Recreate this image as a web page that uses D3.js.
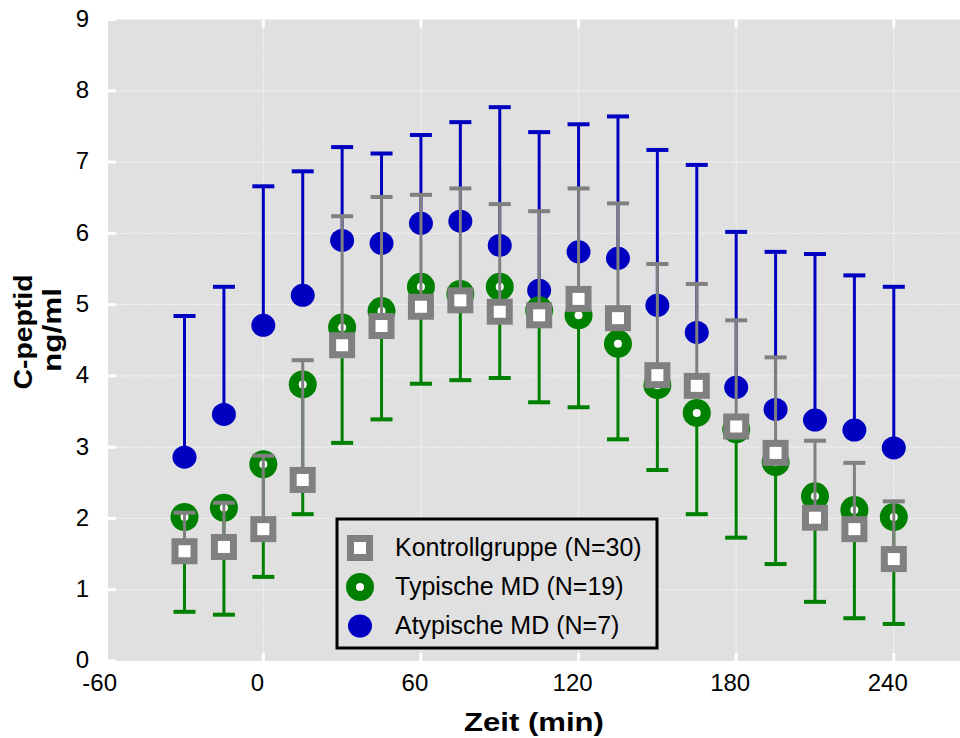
<!DOCTYPE html>
<html>
<head>
<meta charset="utf-8">
<script src="https://cdn.jsdelivr.net/npm/d3@7"></script>
<style>
  body { margin: 0; background: #fff; }
  text { font-family: "Liberation Sans", Arial, sans-serif; }
</style>
</head>
<body>
<div id="chart"></div>
<script>
const width = 960;
const height = 738;

// time points (min)
const times = [-30, -15, 0, 15, 30, 45, 60, 75, 90, 105, 120, 135, 150, 165, 180, 195, 210, 225, 240];

// Kontrollgruppe: mean and upper end of error bar
const ctrlMean  = [1.54, 1.60, 1.85, 2.54, 4.43, 4.70, 4.97, 5.06, 4.90, 4.85, 5.08, 4.81, 4.01, 3.86, 3.29, 2.92, 2.01, 1.85, 1.43];
const ctrlUpper = [2.08, 2.22, 2.88, 4.22, 6.24, 6.51, 6.54, 6.63, 6.41, 6.31, 6.63, 6.42, 5.57, 5.29, 4.78, 4.26, 3.09, 2.78, 2.24];

// Typische MD: mean and lower end of error bar
const typMean  = [2.02, 2.15, 2.76, 3.88, 4.68, 4.91, 5.25, 5.15, 5.25, 4.92, 4.85, 4.45, 3.87, 3.48, 3.25, 2.79, 2.31, 2.12, 2.02];
const typLower = [0.69, 0.65, 1.18, 2.06, 3.06, 3.39, 3.89, 3.94, 3.97, 3.63, 3.56, 3.11, 2.68, 2.06, 1.73, 1.36, 0.83, 0.60, 0.52];

// Atypische MD: mean and upper end of error bar
const atyMean  = [2.86, 3.46, 4.71, 5.13, 5.90, 5.86, 6.14, 6.17, 5.83, 5.20, 5.74, 5.65, 4.99, 4.61, 3.84, 3.53, 3.38, 3.24, 2.99];
const atyUpper = [4.84, 5.25, 6.66, 6.87, 7.21, 7.12, 7.38, 7.56, 7.77, 7.42, 7.53, 7.64, 7.17, 6.96, 6.02, 5.74, 5.71, 5.41, 5.25];

const xTicks = [-60, 0, 60, 120, 180, 240];
const yTicks = [0, 1, 2, 3, 4, 5, 6, 7, 8, 9];

const legendLabels = ["Kontrollgruppe (N=30)", "Typische MD (N=19)", "Atypische MD (N=7)"];

const grey = "#808080", green = "#008000", blue = "#0000c0";

const plotL = 108, plotR = 960, plotT = 19.5, plotB = 661;

const x = d3.scaleLinear().domain([-60, 240]).range([105.7, 893.8]);
const y = d3.scaleLinear().domain([0, 9]).range([plotB, plotT]);

const svg = d3.select("#chart")
  .append("svg")
  .attr("width", width)
  .attr("height", height);

// plot background
svg.append("rect")
  .attr("x", plotL).attr("y", plotT)
  .attr("width", plotR - plotL).attr("height", plotB - plotT)
  .attr("fill", "#e0e0e0");

// grid
svg.append("g").selectAll("line")
  .data(yTicks.slice(1, -1))
  .join("line")
  .attr("x1", plotL).attr("x2", plotR)
  .attr("y1", d => y(d)).attr("y2", d => y(d))
  .attr("stroke", "#f6f6f6").attr("stroke-width", 1).attr("stroke-dasharray", "2,1");

svg.append("g").selectAll("line")
  .data(xTicks.slice(1))
  .join("line")
  .attr("x1", d => x(d)).attr("x2", d => x(d))
  .attr("y1", plotT).attr("y2", plotB)
  .attr("stroke", "#f6f6f6").attr("stroke-width", 1).attr("stroke-dasharray", "2,1");

// white inward tick marks
const tickLen = 8;
svg.append("g").selectAll("line")
  .data(yTicks)
  .join("line")
  .attr("x1", plotL).attr("x2", plotL + tickLen)
  .attr("y1", d => y(d)).attr("y2", d => y(d))
  .attr("stroke", "#fff").attr("stroke-width", 3);

svg.append("g").selectAll("line")
  .data(xTicks.slice(1))
  .join("line")
  .attr("x1", d => x(d)).attr("x2", d => x(d))
  .attr("y1", plotB - tickLen).attr("y2", plotB)
  .attr("stroke", "#fff").attr("stroke-width", 3);

svg.append("g").selectAll("line")
  .data(xTicks.slice(1))
  .join("line")
  .attr("x1", d => x(d)).attr("x2", d => x(d))
  .attr("y1", plotT).attr("y2", plotT + tickLen)
  .attr("stroke", "#fff").attr("stroke-width", 3);

// tick labels
svg.append("g").selectAll("text")
  .data(yTicks)
  .join("text")
  .attr("x", 89).attr("y", d => y(d) + 1)
  .attr("text-anchor", "end").attr("dominant-baseline", "middle")
  .attr("font-size", 24)
  .text(d => d);

svg.append("g").selectAll("text")
  .data(xTicks)
  .join("text")
  .attr("x", d => x(d) - 6).attr("y", 691)
  .attr("text-anchor", "middle")
  .attr("font-size", 24)
  .text(d => d);

// axis titles
svg.append("text")
  .attr("x", 534).attr("y", 731)
  .attr("text-anchor", "middle")
  .attr("font-size", 26).attr("font-weight", "bold")
  .attr("textLength", 140).attr("lengthAdjust", "spacingAndGlyphs")
  .text("Zeit (min)");

svg.append("text")
  .attr("transform", "translate(32,332) rotate(-90)")
  .attr("text-anchor", "middle")
  .attr("font-size", 26).attr("font-weight", "bold")
  .attr("textLength", 115).attr("lengthAdjust", "spacingAndGlyphs")
  .text("C-peptid");

svg.append("text")
  .attr("transform", "translate(61,330) rotate(-90)")
  .attr("text-anchor", "middle")
  .attr("font-size", 26).attr("font-weight", "bold")
  .attr("textLength", 84).attr("lengthAdjust", "spacingAndGlyphs")
  .text("ng/ml");

// error bar helper
const capW = 11;
function errorBars(g, means, ends, color) {
  const d = times.map((t, i) => ({ t, m: means[i], e: ends[i] }));
  g.selectAll("line.stem")
    .data(d).join("line").attr("class", "stem")
    .attr("x1", p => x(p.t)).attr("x2", p => x(p.t))
    .attr("y1", p => y(p.m)).attr("y2", p => y(p.e))
    .attr("stroke", color).attr("stroke-width", 3);
  g.selectAll("line.cap")
    .data(d).join("line").attr("class", "cap")
    .attr("x1", p => x(p.t) - capW).attr("x2", p => x(p.t) + capW)
    .attr("y1", p => y(p.e)).attr("y2", p => y(p.e))
    .attr("stroke", color).attr("stroke-width", 4);
}

// Atypische MD
const gA = svg.append("g");
errorBars(gA, atyMean, atyUpper, blue);
gA.selectAll("ellipse")
  .data(times)
  .join("ellipse")
  .attr("cx", d => x(d))
  .attr("cy", (d, i) => y(atyMean[i]))
  .attr("rx", 12).attr("ry", 11.5)
  .attr("fill", blue);

// Typische MD
const gT = svg.append("g");
errorBars(gT, typMean, typLower, green);
gT.selectAll("circle.ring")
  .data(times)
  .join("circle").attr("class", "ring")
  .attr("cx", d => x(d))
  .attr("cy", (d, i) => y(typMean[i]))
  .attr("r", 14)
  .attr("fill", green);
gT.selectAll("circle.hole")
  .data(times)
  .join("circle").attr("class", "hole")
  .attr("cx", d => x(d))
  .attr("cy", (d, i) => y(typMean[i]))
  .attr("r", 4)
  .attr("fill", "#fff");

// Kontrollgruppe
const gK = svg.append("g");
errorBars(gK, ctrlMean, ctrlUpper, grey);
gK.selectAll("rect.outer")
  .data(times)
  .join("rect").attr("class", "outer")
  .attr("x", d => x(d) - 13)
  .attr("y", (d, i) => y(ctrlMean[i]) - 13)
  .attr("width", 26).attr("height", 26)
  .attr("fill", grey);
gK.selectAll("rect.inner")
  .data(times)
  .join("rect").attr("class", "inner")
  .attr("x", d => x(d) - 6)
  .attr("y", (d, i) => y(ctrlMean[i]) - 6)
  .attr("width", 12).attr("height", 12)
  .attr("fill", "#fff");

// legend
const lg = svg.append("g");
lg.append("rect")
  .attr("x", 337).attr("y", 519)
  .attr("width", 320).attr("height", 129)
  .attr("fill", "#e0e0e0")
  .attr("stroke", "#000").attr("stroke-width", 3);

const rowY = [548, 587, 626];
const mx = 360;
lg.append("rect").attr("x", mx - 13).attr("y", rowY[0] - 13).attr("width", 26).attr("height", 26).attr("fill", grey);
lg.append("rect").attr("x", mx - 6).attr("y", rowY[0] - 6).attr("width", 12).attr("height", 12).attr("fill", "#fff");
lg.append("circle").attr("cx", mx).attr("cy", rowY[1]).attr("r", 14).attr("fill", green);
lg.append("circle").attr("cx", mx).attr("cy", rowY[1]).attr("r", 4).attr("fill", "#fff");
lg.append("ellipse").attr("cx", mx).attr("cy", rowY[2]).attr("rx", 12).attr("ry", 11.5).attr("fill", blue);

lg.selectAll("text")
  .data(legendLabels)
  .join("text")
  .attr("x", 395)
  .attr("y", (d, i) => rowY[i] + 1)
  .attr("dominant-baseline", "middle")
  .attr("font-size", 25)
  .text(d => d);
</script>
</body>
</html>
